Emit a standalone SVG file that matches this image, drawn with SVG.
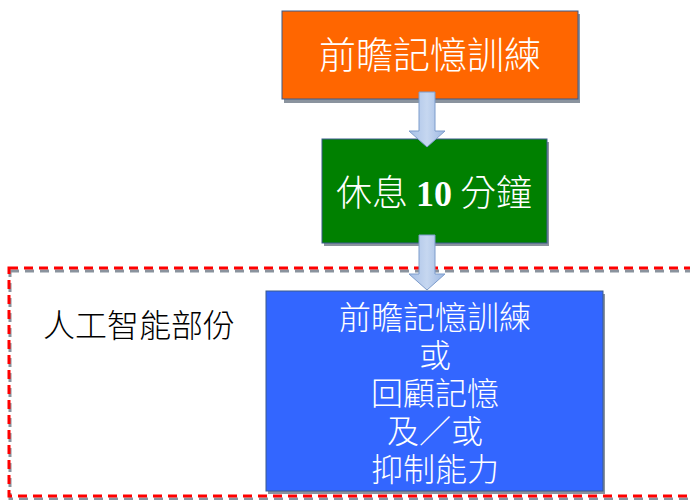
<svg xmlns="http://www.w3.org/2000/svg" width="690" height="500" viewBox="0 0 690 500">
<defs>
<linearGradient id="ag" x1="0" y1="0" x2="1" y2="0">
<stop offset="0" stop-color="#A7C0E6"/>
<stop offset="0.5" stop-color="#C6D7F0"/>
<stop offset="1" stop-color="#9DB8E2"/>
</linearGradient>
<style>
.box{stroke:#3A5A8C;stroke-width:1}
.sh{fill:#8A939E}
.t{font-family:"Noto Sans CJK TC","Noto Sans CJK SC",sans-serif;fill:#FFFFFF;text-anchor:middle;font-weight:300}
.lbl{font-family:"Noto Sans CJK TC","Noto Sans CJK SC",sans-serif;fill:#000000;font-weight:300}
.num{font-family:"Liberation Serif",serif;font-weight:bold}
.arrow{fill:url(#ag);stroke:#7D9CCB;stroke-width:1}
</style>
</defs>
<rect width="690" height="500" fill="#FFFFFF"/>
<g id="ai-region">
<rect x="10" y="271" width="690" height="228" fill="none" stroke="#8A939E" stroke-width="3" stroke-dasharray="9 6"/>
<rect x="9" y="268" width="690" height="228" fill="none" stroke="#FF0000" stroke-width="3" stroke-dasharray="9 6"/>
<text class="lbl" x="43" y="337" font-size="32">人工智能部份</text>
</g>
<g id="node-training">
<rect class="sh" x="284" y="14" width="296" height="89"/>
<rect class="box" x="282" y="11" width="296" height="88" fill="#FF6600"/>
<text class="t" x="430" y="69" font-size="37">前瞻記憶訓練</text>
</g>
<g id="node-rest">
<rect class="sh" x="324" y="142" width="225" height="104"/>
<rect class="box" x="322" y="139" width="225" height="104" fill="#008000"/>
<text class="t" x="434" y="206" font-size="36">休息 <tspan class="num">10</tspan> 分鐘</text>
</g>
<g id="node-ai">
<rect class="sh" x="268" y="294" width="337" height="200"/>
<rect class="box" x="266" y="291" width="337" height="200" fill="#3366FF"/>
<text class="t" x="435" y="329" font-size="32">前瞻記憶訓練</text>
<text class="t" x="435" y="367" font-size="32">或</text>
<text class="t" x="435" y="405" font-size="32">回顧記憶</text>
<text class="t" x="435" y="443" font-size="32">及／或</text>
<text class="t" x="435" y="481" font-size="32">抑制能力</text>
</g>
<g id="connectors">
<path class="arrow" d="M419,92 H435 V131 H445 L427,147 L409,131 H419 Z"/>
<path class="arrow" d="M419,235 H435 V274 H445 L427,290 L409,274 H419 Z"/>
</g>
</svg>
